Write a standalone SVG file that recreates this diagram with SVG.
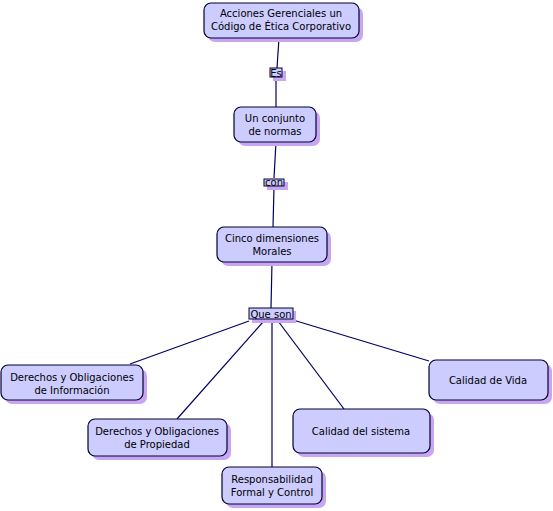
<svg xmlns="http://www.w3.org/2000/svg" width="553" height="511" viewBox="0 0 553 511">
<style>
.sh{fill:#c9a6f2;}
.nb{fill:#ccccff;stroke:#000033;stroke-width:1.2;}
.t{font-family:"DejaVu Sans",Verdana,sans-serif;font-size:10px;fill:#000;text-anchor:middle;}
.lb{fill:#ccccff;stroke:#000033;stroke-width:1;}
.c{stroke:#000066;stroke-width:1.2;fill:none;}
</style>
<rect width="553" height="511" fill="#fff"/>
<g id="connectors">
<line class="c" x1="279" y1="38" x2="277" y2="68"/>
<line class="c" x1="276" y1="77" x2="276" y2="107"/>
<line class="c" x1="276" y1="142" x2="274" y2="178"/>
<line class="c" x1="274" y1="187" x2="273" y2="227"/>
<line class="c" x1="272" y1="262" x2="271" y2="308"/>
<line class="c" x1="249" y1="321" x2="130" y2="364"/>
<line class="c" x1="263" y1="322" x2="177" y2="419"/>
<line class="c" x1="272" y1="321" x2="272" y2="467"/>
<line class="c" x1="278" y1="321" x2="344" y2="409"/>
<line class="c" x1="293" y1="320" x2="429" y2="361"/>
</g>
<g id="lbl-es">
<rect class="sh" x="273" y="71" width="13" height="10"/>
<rect class="lb" x="270" y="68" width="12" height="9"/>
<text class="t" x="276" y="76.5">Es</text>
</g>
<g id="lbl-con">
<rect class="sh" x="267" y="182" width="21" height="8"/>
<rect class="lb" x="264" y="179" width="20" height="7"/>
<text class="t" x="274" y="186">con</text>
</g>
<g id="lbl-queson">
<rect class="sh" x="252" y="311" width="44" height="12"/>
<rect class="lb" x="249" y="308" width="44" height="11"/>
<text class="t" x="271" y="317.5">Que son</text>
</g>
<g id="n1">
<rect class="sh" x="208" y="7" width="155" height="35" rx="7"/>
<rect class="nb" x="204" y="3" width="155" height="35" rx="7"/>
<text class="t" x="281" y="17">Acciones Gerenciales un</text>
<text class="t" x="281" y="30">Código de Ética Corporativo</text>
</g>
<g id="n2">
<rect class="sh" x="238" y="111" width="82" height="35" rx="7"/>
<rect class="nb" x="234" y="107" width="82" height="35" rx="7"/>
<text class="t" x="275" y="122">Un conjunto</text>
<text class="t" x="275" y="135">de normas</text>
</g>
<g id="n3">
<rect class="sh" x="221" y="231" width="110" height="35" rx="7"/>
<rect class="nb" x="217" y="227" width="110" height="35" rx="7"/>
<text class="t" x="272" y="242">Cinco dimensiones</text>
<text class="t" x="272" y="255">Morales</text>
</g>
<g id="n4">
<rect class="sh" x="5" y="369" width="142" height="35" rx="7"/>
<rect class="nb" x="1" y="365" width="142" height="35" rx="7"/>
<text class="t" x="72" y="381">Derechos y Obligaciones</text>
<text class="t" x="72" y="394">de Información</text>
</g>
<g id="n5">
<rect class="sh" x="92" y="423" width="139" height="37" rx="7"/>
<rect class="nb" x="88" y="419" width="139" height="37" rx="7"/>
<text class="t" x="157" y="435">Derechos y Obligaciones</text>
<text class="t" x="157" y="448">de Propiedad</text>
</g>
<g id="n6">
<rect class="sh" x="226" y="471" width="100" height="37" rx="7"/>
<rect class="nb" x="222" y="467" width="100" height="37" rx="7"/>
<text class="t" x="272" y="483">Responsabilidad</text>
<text class="t" x="272" y="496">Formal y Control</text>
</g>
<g id="n7">
<rect class="sh" x="297" y="413" width="137" height="44" rx="7"/>
<rect class="nb" x="293" y="409" width="137" height="44" rx="7"/>
<text class="t" x="361" y="435">Calidad del sistema</text>
</g>
<g id="n8">
<rect class="sh" x="433" y="364" width="119" height="40" rx="7"/>
<rect class="nb" x="429" y="360" width="119" height="40" rx="7"/>
<text class="t" x="488" y="384">Calidad de Vida</text>
</g>
</svg>
